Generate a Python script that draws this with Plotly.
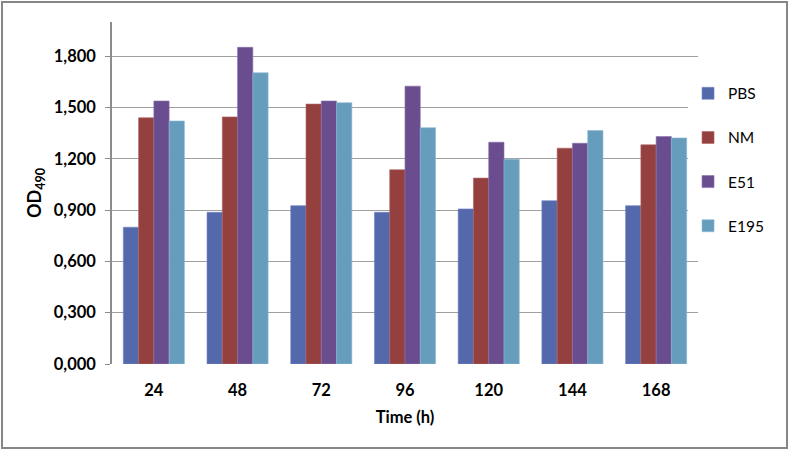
import plotly.graph_objects as go

# Data
hours = ["24", "48", "72", "96", "120", "144", "168"]
pbs = [0.800, 0.887, 0.926, 0.887, 0.907, 0.955, 0.926]
nm = [1.440, 1.445, 1.520, 1.136, 1.087, 1.262, 1.282]
e51 = [1.538, 1.852, 1.538, 1.625, 1.297, 1.291, 1.330]
e195 = [1.421, 1.703, 1.528, 1.382, 1.198, 1.365, 1.322]

series_names = ["PBS", "NM", "E51", "E195"]
series_values = [pbs, nm, e51, e195]
colors = ["#5468AC", "#94403F", "#6A4D8E", "#669DBD"]
edges = ["#7487C4", "#B06564", "#8A70AD", "#8BB9D4"]

font_family = "Lato, 'Open Sans', sans-serif"

fig = go.Figure()
for name, vals, c, e in zip(series_names, series_values, colors, edges):
    fig.add_trace(go.Bar(x=hours, y=vals, name=name, legendgroup=name,
                         marker=dict(color=c, line=dict(color=e, width=0.6))))

# Outer chart border
fig.add_shape(type="rect", xref="paper", yref="paper",
              x0=-0.1877, x1=1.1519, y0=-0.2456, y1=1.0585,
              line=dict(color="#868686", width=2), fillcolor="rgba(0,0,0,0)")

fig.update_xaxes(showline=False, showgrid=False, zeroline=False, ticks="",
                 ticklabelstandoff=14,
                 tickfont=dict(family=font_family, size=16.5, color="#000000", weight="bold"),
                 title=dict(text="Time (h)", standoff=12,
                            font=dict(family=font_family, size=16.5, color="#000000", weight="bold")))

fig.update_yaxes(range=[0, 2.0], tick0=0, dtick=0.3, tickformat=".3f",
                 showline=True, linecolor="#8C8C8C", linewidth=1.5,
                 ticks="outside", ticklen=5, tickcolor="#8C8C8C", ticklabelstandoff=6,
                 showgrid=True, gridcolor="#A0A0A0", gridwidth=1,
                 zeroline=True, zerolinecolor="#FFFFFF", zerolinewidth=1,
                 tickfont=dict(family=font_family, size=16.5, color="#000000", weight="bold"),
                 title=dict(text="OD<sub>490</sub>", standoff=7,
                            font=dict(family=font_family, size=18, color="#000000", weight="bold")))

fig.update_layout(width=790, height=451, barmode="group", bargap=0.27, bargroupgap=0,
                  separators=",.",
                  plot_bgcolor="#FFFFFF", paper_bgcolor="#FFFFFF",
                  margin=dict(l=112, r=92, t=22, b=87),
                  legend=dict(x=0.983, y=0.84, xanchor="left", yanchor="top",
                              tracegroupgap=21, itemwidth=30,
                              font=dict(family=font_family, size=15.5, color="#000000")),
                  showlegend=True)

fig.write_html("out.html", config={"displayModeBar": False},
               post_script="document.body.style.margin='0';")
